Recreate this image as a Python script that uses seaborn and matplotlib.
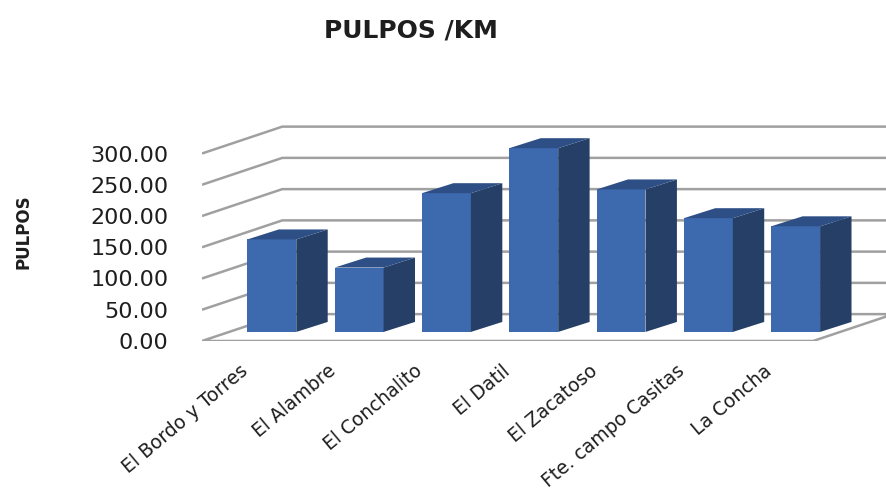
import matplotlib
matplotlib.use("Agg")
import matplotlib.pyplot as plt
import seaborn as sns
from matplotlib.patches import Polygon

sites = ["El Bordo y Torres", "El Alambre", "El Conchalito", "El Datil",
         "El Zacatoso", "Fte. campo Casitas", "La Concha"]
pulpos_km = [148, 103, 222, 294, 228, 182, 169]
y_ticks = [0, 50, 100, 150, 200, 250, 300]

FRONT = "#3d6aaf"
SIDE  = "#253f66"
TOP   = "#2e4f86"
GRID  = "#a0a0a0"

# fake 3D (Excel style): floor depth and where the bars sit in it, in data units
DEPTH_X, DEPTH_Y     = 0.92, 43.0
BAR_OFF_X, BAR_OFF_Y = 0.30, 14.5
BAR_DX, BAR_DY       = 0.36, 16.0
BAR_W                = 0.56

sns.set_theme(style="white")
plt.rcParams["font.family"] = ["DejaVu Sans"]

fig = plt.figure(figsize=(8.86, 4.93), dpi=100)
ax = fig.add_axes([202 / 886, 152 / 493, (896 - 202) / 886, 225 / 493])

sns.barplot(x=sites, y=pulpos_km, color=FRONT, saturation=1, width=BAR_W,
            ax=ax, zorder=3)
bars = list(ax.patches)

n = len(sites)
x0, x1 = -0.5, n - 0.5

# left wall + back wall gridlines
for v in y_ticks[1:]:
    ax.plot([x0, x0 + DEPTH_X, x1 + DEPTH_X], [v, v + DEPTH_Y, v + DEPTH_Y],
            color=GRID, lw=1.8, zorder=1, solid_capstyle="butt")

# floor
ax.add_patch(Polygon([(x0, 0), (x1, 0), (x1 + DEPTH_X, DEPTH_Y), (x0 + DEPTH_X, DEPTH_Y)],
                     closed=True, fc="white", ec=GRID, lw=1.8, zorder=1))

# push front faces back into the floor, then add side and top faces
for bar, v in zip(bars, pulpos_km):
    bar.set_x(bar.get_x() + BAR_OFF_X)
    bar.set_y(BAR_OFF_Y)
    bar.set_edgecolor("none")
    xl = bar.get_x()
    xr = xl + bar.get_width()
    yb, yt = BAR_OFF_Y, BAR_OFF_Y + v
    side = Polygon([(xr, yb), (xr + BAR_DX, yb + BAR_DY), (xr + BAR_DX, yt + BAR_DY), (xr, yt)],
                   closed=True, fc=SIDE, ec="none", zorder=3)
    top = Polygon([(xl, yt), (xl + BAR_DX, yt + BAR_DY), (xr + BAR_DX, yt + BAR_DY), (xr, yt)],
                  closed=True, fc=TOP, ec="none", zorder=3)
    ax.add_patch(side)
    ax.add_patch(top)

ax.set_xlim(-0.5, -0.5 + (896 - 202) / 87.3)
ax.set_ylim(0, 360)
ax.set_xlabel("")
ax.set_ylabel("")
for s in ax.spines.values():
    s.set_visible(False)

ax.set_yticks(y_ticks, labels=[f"{v:.2f}" for v in y_ticks])
ax.tick_params(axis="y", length=0, pad=24, labelsize=16, labelcolor="#1e1e1e")

ax.set_xticks(range(n), labels=sites)
ax.tick_params(axis="x", length=0, pad=20, labelsize=13.5, labelcolor="#1e1e1e")
for lbl in ax.get_xticklabels():
    lbl.set_rotation(40)
    lbl.set_ha("right")
    lbl.set_va("center")
    lbl.set_rotation_mode("anchor")

fig.text(411 / 886, 1 - 30 / 493, "PULPOS /KM", ha="center", va="center",
         fontsize=18, fontweight="bold", color="#1e1e1e")
fig.text(24 / 886, 1 - 232 / 493, "PULPOS", ha="center", va="center", rotation=90,
         fontsize=12, fontweight="bold", color="#1e1e1e")

fig.savefig("out.png", dpi=100)
